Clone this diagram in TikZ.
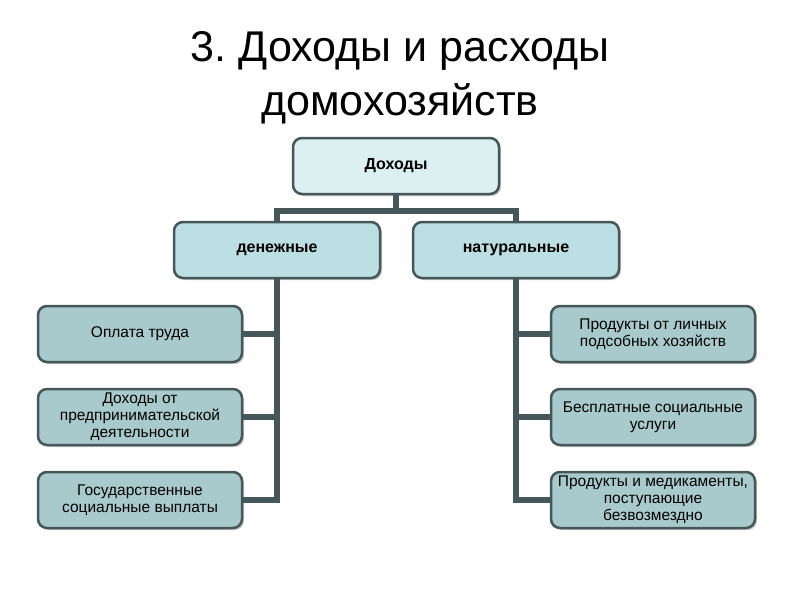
\documentclass[tikz,border=0pt]{standalone}
\usepackage{fontspec}
\setmainfont{Liberation Sans}
\usetikzlibrary{shadows}
\definecolor{edge}{HTML}{46575A}
\definecolor{fillA}{HTML}{DCEFF1}
\definecolor{fillB}{HTML}{BCDFE3}
\definecolor{fillC}{HTML}{A9CACD}
\frenchspacing
\begin{document}
\begin{tikzpicture}[x=1pt,y=-1pt,
  box/.style={draw=edge,line width=2.5pt,rounded corners=9pt,minimum width=206pt,
    minimum height=56pt,inner sep=1pt,align=center,font=\fontsize{15.5}{17}\selectfont,
    drop shadow={shadow xshift=2pt,shadow yshift=-2pt,fill=black!35,opacity=0.6}},
  lvA/.style={box,fill=fillA,font=\fontsize{16}{18}\selectfont\bfseries},
  lvB/.style={box,fill=fillB,font=\fontsize{16}{18}\selectfont\bfseries},
  lvC/.style={box,fill=fillC,minimum width=204pt},
  conn/.style={draw=edge,line width=6pt}]
\useasboundingbox (0,0) rectangle (800,600);
\fill[white] (0,0) rectangle (800,600);
\node[font=\fontsize{43}{54}\selectfont,align=center] (title) at (400,78) {3. Доходы и расходы\\домохозяйств};
\node[lvA] (root) at (396,166) {Доходы};
\node[lvB] (money) at (277,250) {денежные};
\node[lvB] (nat) at (516,250) {натуральные};
\node[lvC] (l1) at (140,334) {Оплата труда};
\node[lvC] (l2) at (140,417) {Доходы от\\предпринимательской\\деятельности};
\node[lvC] (l3) at (140,500) {Государственные\\социальные выплаты};
\node[lvC] (r1) at (653,334) {Продукты от личных\\подсобных хозяйств};
\node[lvC] (r2) at (653,417) {Бесплатные социальные\\услуги};
\node[lvC] (r3) at (653,500) {Продукты и медикаменты,\\поступающие\\безвозмездно};
\coordinate (hub) at (396,211);
\draw[conn] (root.south) -- (hub);
\draw[conn] (money.north) |- (hub) -| (nat.north);
\draw[conn] (money.south) -- (money.south |- l3.east) -- (l3.east);
\draw[conn] (money.south |- l1.east) -- (l1.east);
\draw[conn] (money.south |- l2.east) -- (l2.east);
\draw[conn] (nat.south) -- (nat.south |- r3.west) -- (r3.west);
\draw[conn] (nat.south |- r1.west) -- (r1.west);
\draw[conn] (nat.south |- r2.west) -- (r2.west);
\end{tikzpicture}
\end{document}
